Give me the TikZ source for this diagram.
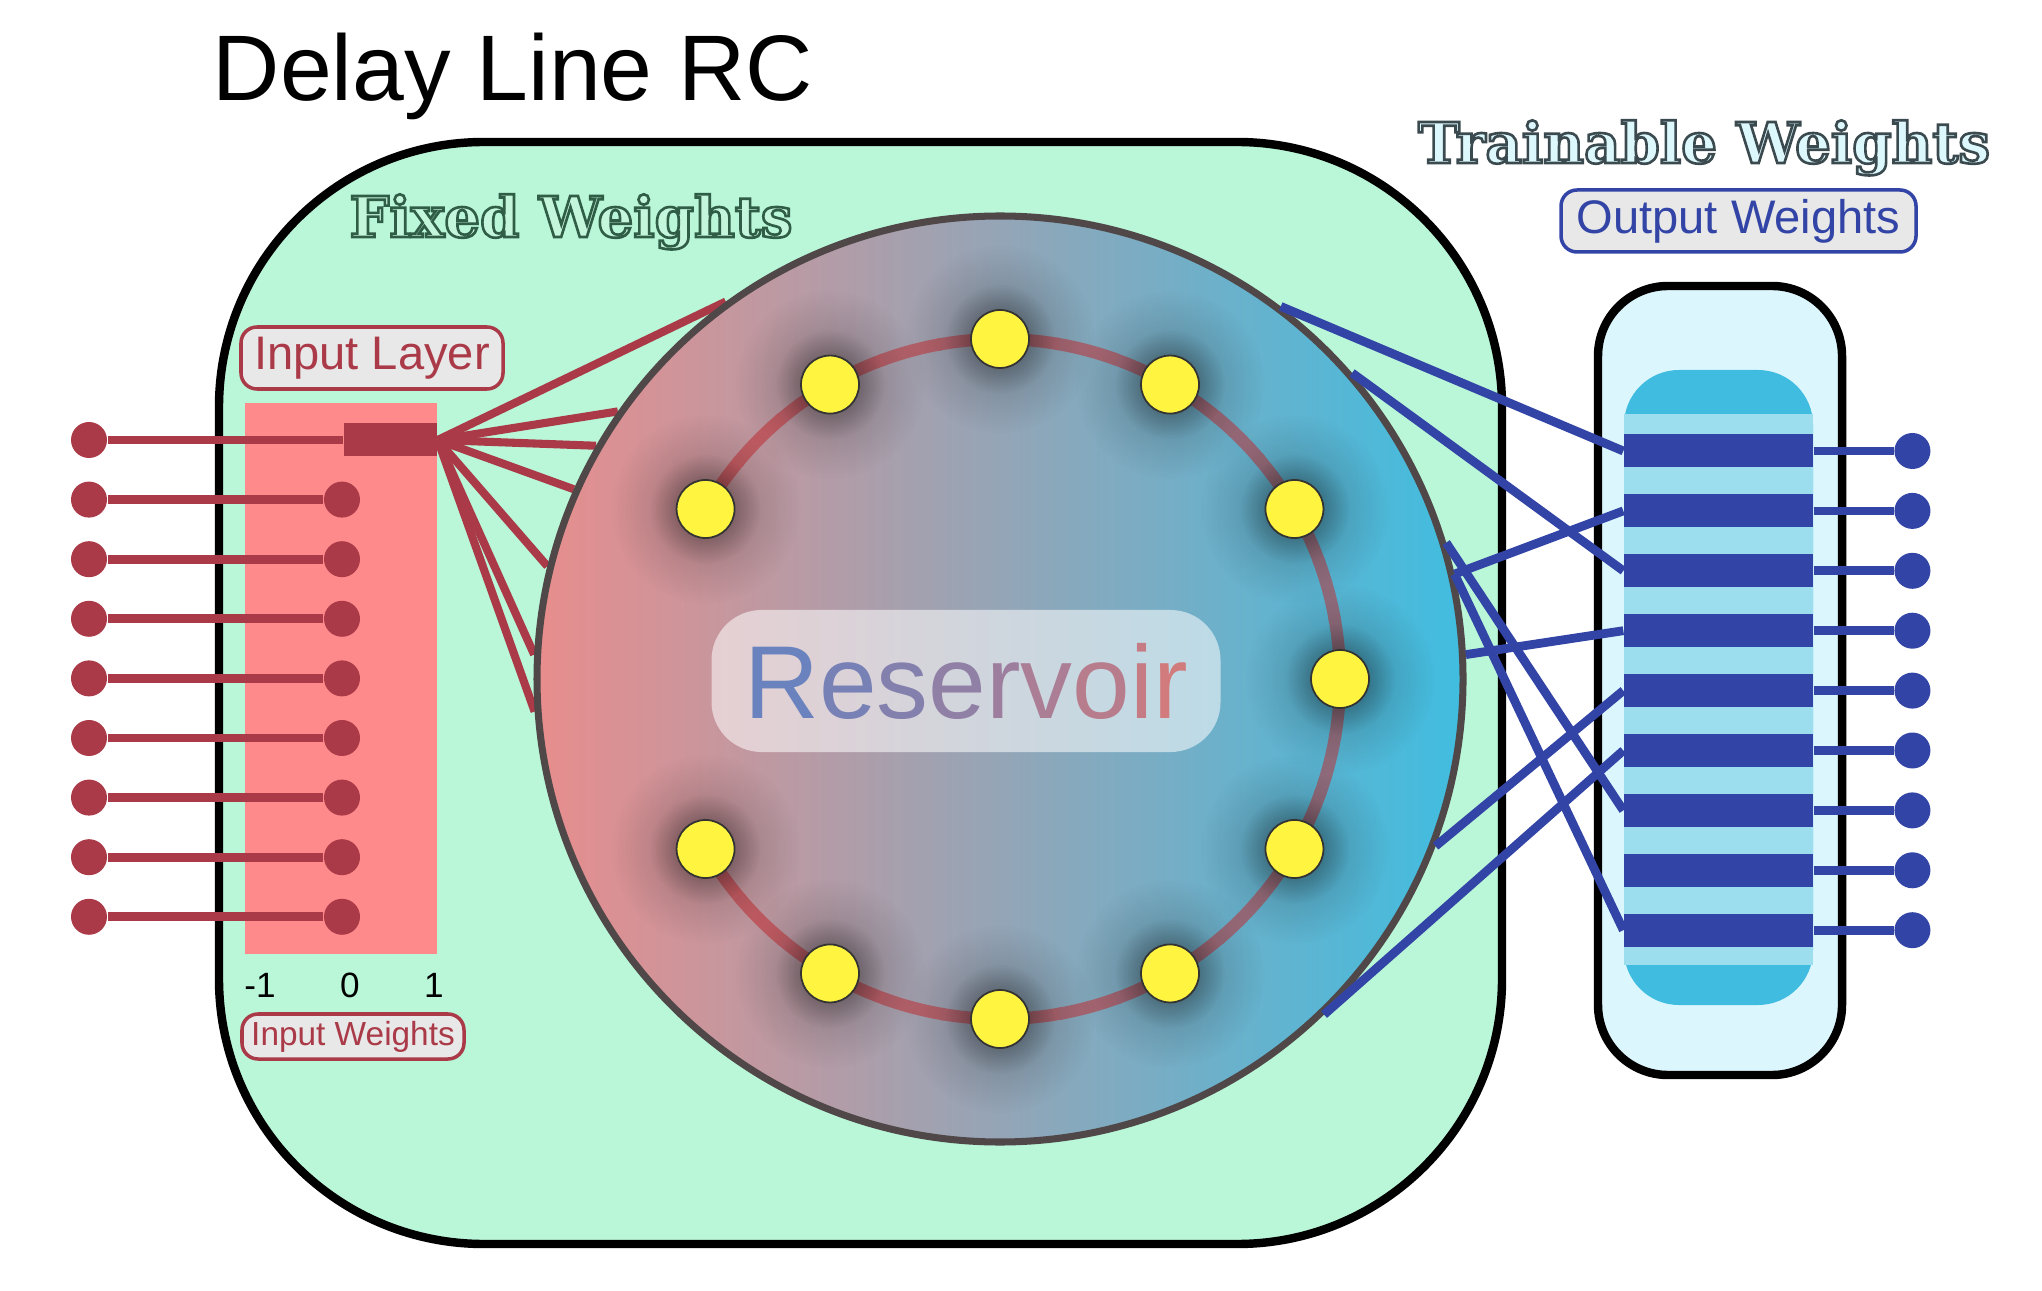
\documentclass[tikz,border=0pt]{standalone}
\usepackage{fontspec}
\setmainfont{Liberation Sans}
\newfontfamily\chunkyfont{DejaVu Serif}
\usetikzlibrary{positioning, backgrounds, calc, fadings}

\definecolor{mint}{HTML}{BAF6D8}
\definecolor{fixedfill}{HTML}{C4F6DC}
\definecolor{trainfill}{HTML}{DDF8FD}
\definecolor{inred}{HTML}{AB3A48}
\definecolor{inpink}{HTML}{FE8A8B}
\definecolor{tagfill}{HTML}{E8E8E8}
\definecolor{outblue}{HTML}{3244A6}
\definecolor{panelfill}{HTML}{DCF6FD}
\definecolor{barcyan}{HTML}{3FBCE0}
\definecolor{stripe}{HTML}{9DDEEE}
\definecolor{resleft}{HTML}{E88D8D}
\definecolor{resright}{HTML}{40BDE0}
\definecolor{resborder}{HTML}{504848}
\definecolor{ringr}{HTML}{CB5A60}
\definecolor{ringm}{HTML}{926E7E}
\definecolor{unityellow}{HTML}{FFF540}
\definecolor{resblue}{HTML}{6A82BE}
\definecolor{resred}{HTML}{D27B7D}

\tikzfading[name=dotglow, inner color=transparent!0, outer color=transparent!100]

% stroked lettering: fill in the text colour, outline given as r g b
\newcommand\outlined[2]{\special{pdf:code 2 Tr 0.75 w #1 RG}#2\special{pdf:code 0 Tr}}

\tikzset{
    frame/.style={draw=black, line width=2.4pt},
    tag/.style={rectangle, rounded corners=0.16cm, draw=#1, text=#1, fill=tagfill, line width=1pt, inner sep=0pt},
    plug/.style={circle, fill=#1, inner sep=0pt, minimum size=0.36cm},
    inwire/.style={draw=inred, line width=2.5pt},
    fanwire/.style={draw=inred, line width=2.3pt},
    outwire/.style={draw=outblue, line width=2.5pt},
    wbar/.style={rectangle, fill=outblue, inner sep=0pt, minimum width=1.89cm, minimum height=0.33cm},
    unit/.style={circle, draw=black!80, line width=0.5pt, fill=unityellow, inner sep=0pt, minimum size=0.58cm},
    fancy/.style={font=\chunkyfont\bfseries\fontsize{16}{18}\selectfont, anchor=base, inner sep=0pt}
}

\begin{document}
\begin{tikzpicture}
    \useasboundingbox (0,0) rectangle (20.42,12.90);

    \begin{scope}[on background layer]
        \node (chip) [frame, fill=mint, rounded corners=2.65cm, minimum width=12.83cm, minimum height=11.02cm] at (8.605,5.97) {};
    \end{scope}

    \node (title) [font=\fontsize{26.5}{30}\selectfont, anchor=base, inner sep=0pt] at (5.13,11.89) {Delay Line RC};

    \node (fixed) [fancy, text=fixedfill] at (5.71,10.53) {\outlined{0.184 0.365 0.271}{Fixed Weights}};
    \node (train) [fancy, text=trainfill] at (17.04,11.27) {\outlined{0.231 0.290 0.306}{Trainable Weights}};

    % input layer
    \node (inbox) [rectangle, fill=inpink, inner sep=0pt, minimum width=1.92cm, minimum height=5.51cm] at (3.41,6.115) {};
    \node (inlayer) [tag=inred, minimum width=2.62cm, minimum height=0.62cm, font=\fontsize{13.4}{15}\selectfont] at (3.72,9.32) {Input Layer};
    \node (mone) [font=\fontsize{10}{12}\selectfont] at (2.60,3.05) {-1};
    \node (zero) [font=\fontsize{10}{12}\selectfont] at (3.50,3.05) {0};
    \node (one) [font=\fontsize{10}{12}\selectfont] at (4.34,3.05) {1};
    \node (inweights) [tag=inred, minimum width=2.22cm, minimum height=0.45cm, font=\fontsize{9.5}{11}\selectfont] at (3.53,2.535) {Input Weights};

    \foreach \k [evaluate=\k as \y using 8.50-0.596*\k] in {0,...,8}
        \node (inl\k) [plug=inred] at (0.89,\y) {};
    \foreach \k [evaluate=\k as \y using 8.50-0.596*\k] in {1,...,8}
        \node (inr\k) [plug=inred] at (3.42,\y) {};
    \node (inhub) [rectangle, fill=inred, inner sep=0pt, minimum width=0.93cm, minimum height=0.33cm] at (3.905,8.50) {};
    \draw [inwire] (inl0) -- (inhub);
    \foreach \k in {1,...,8}
        \draw [inwire] (inl\k) -- (inr\k);

    % reservoir
    \node (res) [circle, draw=resborder, line width=2pt, left color=resleft, right color=resright, inner sep=0pt, minimum size=9.26cm] at (10.00,6.11) {};

    \begin{scope}[on background layer]
        \foreach \a in {126.6,145.5,150,156.4,166.5,177.3,184.9}
            \draw [fanwire] (inhub.east) -- (res.\a);
    \end{scope}

    \foreach \a in {-150,-140,...,140} {
        \pgfmathtruncatemacro\mix{50-50*cos(\a+5)}
        \draw [ringr!\mix!ringm, line width=3.5pt] ($(res.center)+(\a:3.4)$) arc [start angle=\a, end angle=\a+10.6, radius=3.4];
    }
    \foreach \a in {0,30,60,90,120,150,210,240,270,300,330} {
        \fill [black, path fading=dotglow, fill opacity=0.25] ($(res.center)+(\a:3.4)$) circle (0.95);
        \fill [black, path fading=dotglow, fill opacity=0.45] ($(res.center)+(\a:3.4)$) circle (0.55);
    }
    \foreach \a in {0,30,60,90,120,150,210,240,270,300,330}
        \node (unit\a) [unit] at ($(res.center)+(\a:3.4)$) {};

    \node (reslabel) [rounded corners=0.5cm, fill=white, fill opacity=0.55, text opacity=1, minimum width=5.09cm, minimum height=1.42cm, font=\fontsize{29.5}{32}\selectfont] at (9.66,6.09)
        {\textcolor{resblue}{R}\textcolor{resred!12!resblue}{e}\textcolor{resred!25!resblue}{s}\textcolor{resred!37!resblue}{e}\textcolor{resred!50!resblue}{r}\textcolor{resred!62!resblue}{v}\textcolor{resred!75!resblue}{o}\textcolor{resred!87!resblue}{i}\textcolor{resred}{r}};

    % readout
    \node (outweights) [tag=outblue, minimum width=3.55cm, minimum height=0.62cm, font=\fontsize{13.4}{15}\selectfont] at (17.385,10.69) {Output Weights};
    \node (panel) [frame, fill=panelfill, rounded corners=0.7cm, minimum width=2.44cm, minimum height=7.89cm] at (17.20,6.095) {};
    \node (column) [fill=barcyan, rounded corners=0.55cm, inner sep=0pt, minimum width=1.89cm, minimum height=6.35cm] at (17.185,6.025) {};
    \node (stripes) [fill=stripe, inner sep=0pt, minimum width=1.89cm, minimum height=5.51cm] at (17.185,6.005) {};

    \foreach \i [evaluate=\i as \y using 8.39-0.599*(\i-1)] in {1,...,9} {
        \node (b\i) [wbar] at (17.185,\y) {};
        \node (o\i) [plug=outblue, right=0.8cm of b\i] {};
        \draw [outwire] (b\i) -- (o\i);
    }

    \draw [outwire] (res.53.9) -- (b1.west);
    \draw [outwire] (res.13.5) -- (b2.west);
    \draw [outwire] (res.41) -- (b3.west);
    \draw [outwire] (res.3.6) -- (b4.west);
    \draw [outwire] (res.-21.9) -- (b5.west);
    \draw [outwire] (res.-46) -- (b6.west);
    \draw [outwire] (res.17) -- (b7.west);
    \draw [outwire] (res.13.5) -- (b9.west);
\end{tikzpicture}
\end{document}
